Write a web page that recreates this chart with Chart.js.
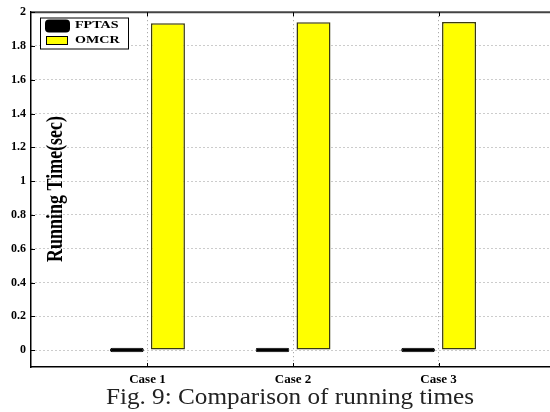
<!DOCTYPE html>
<html>

<head>
    <title>Comparison of running times</title>
    <script src="https://cdn.jsdelivr.net/npm/chart.js"></script>
    <style>
        html,
        body {
            margin: 0;
            padding: 0;
            overflow: hidden;
            background: #fff;
            width: 550px;
            height: 412px;
        }

        #myChart {
            position: absolute;
            left: 0;
            top: 0;
        }

        #caption {
            position: absolute;
            left: 0;
            top: 385px;
            width: 580px;
            text-align: center;
            font-family: "Liberation Serif", "Times New Roman", serif;
            font-size: 22.5px;
            line-height: 24px;
            color: #222;
            white-space: nowrap;
            transform: scaleX(1.12);
            transform-origin: 290px 0;
        }
    </style>
</head>

<body>
    <canvas id="myChart" width="555" height="412"></canvas>
    <div id="caption">Fig. 9: Comparison of running times</div>

    <script>
        // values
        const cases = ['Case 1', 'Case 2', 'Case 3'];
        const fptas = [0.014, 0.014, 0.014];
        const omcr = [1.934, 1.94, 1.942];
        const yTicks = [0, 0.2, 0.4, 0.6, 0.8, 1, 1.2, 1.4, 1.6, 1.8, 2];
        const yTitle = 'Running Time(sec)';

        const serif = '"Liberation Serif", "Times New Roman", serif';

        function points(values) {
            return values.map((v, i) => ({ x: i + 1, y: v }));
        }

        // frame top line, inward tick marks, legend box and y title
        const decor = {
            id: 'decor',
            afterDatasetsDraw(chart) {
                const ctx = chart.ctx;
                const area = chart.chartArea;
                const xs = chart.scales.x;
                const ys = chart.scales.y;
                ctx.save();

                ctx.strokeStyle = '#444';
                ctx.lineWidth = 2;
                ctx.beginPath();
                ctx.moveTo(area.left, area.top);
                ctx.lineTo(area.right, area.top);
                ctx.stroke();

                ctx.strokeStyle = '#000';
                ctx.lineWidth = 1;
                ctx.beginPath();
                cases.forEach((c, i) => {
                    const px = Math.round(xs.getPixelForValue(i + 1)) + 0.5;
                    ctx.moveTo(px, area.bottom);
                    ctx.lineTo(px, area.bottom - 4);
                    ctx.moveTo(px, area.top);
                    ctx.lineTo(px, area.top + 4);
                });
                yTicks.forEach(v => {
                    const py = Math.round(ys.getPixelForValue(v)) + 0.5;
                    ctx.moveTo(area.left, py);
                    ctx.lineTo(area.left + 4, py);
                });
                ctx.stroke();

                // legend
                const lx = 40, ly = 17.5, lw = 88, lh = 31;
                ctx.fillStyle = '#fff';
                ctx.fillRect(lx, ly, lw, lh);
                ctx.strokeStyle = '#000';
                ctx.lineWidth = 1;
                ctx.strokeRect(lx + 0.5, ly + 0.5, lw, lh);

                const ds = chart.data.datasets;
                ctx.fillStyle = ds[0].backgroundColor;
                ctx.beginPath();
                ctx.roundRect(45, 19.5, 25, 13, 4);
                ctx.fill();

                ctx.fillStyle = ds[1].backgroundColor;
                ctx.fillRect(46, 36, 22, 9);
                ctx.strokeStyle = '#000';
                ctx.strokeRect(46.5, 36.5, 21, 8);

                ctx.fillStyle = '#000';
                ctx.font = 'bold 11px ' + serif;
                ctx.textBaseline = 'middle';
                ctx.textAlign = 'left';
                [ds[0].label, ds[1].label].forEach((t, i) => {
                    ctx.save();
                    ctx.translate(75, i === 0 ? 25 : 40.5);
                    ctx.scale(1.28, 1);
                    ctx.fillText(t, 0, 0);
                    ctx.restore();
                });

                // y axis title, sits inside the plot like the original
                ctx.save();
                ctx.translate(56.5, 189);
                ctx.scale(1.28, 1);
                ctx.rotate(-Math.PI / 2);
                ctx.font = 'bold 18px ' + serif;
                ctx.textAlign = 'center';
                ctx.textBaseline = 'middle';
                ctx.fillText(yTitle, 0, 0);
                ctx.restore();

                ctx.restore();
            }
        };

        const ctx = document.getElementById('myChart').getContext('2d');

        const myChart = new Chart(ctx, {
            type: 'bar',
            data: {
                datasets: [{
                    label: 'FPTAS',
                    data: points(fptas),
                    base: -0.013,
                    backgroundColor: '#000',
                    borderColor: '#000',
                    borderWidth: 1,
                    borderRadius: 2.5,
                    borderSkipped: false
                }, {
                    label: 'OMCR',
                    data: points(omcr),
                    backgroundColor: '#ffff00',
                    borderColor: '#3a3a10',
                    borderWidth: 1.5,
                    borderSkipped: false
                }]
            },
            options: {
                responsive: false,
                animation: false,
                categoryPercentage: 0.563,
                barPercentage: 0.83,
                layout: {
                    padding: { top: 11, left: 0, right: 0, bottom: 0 }
                },
                plugins: {
                    legend: { display: false },
                    tooltip: { enabled: false }
                },
                scales: {
                    x: {
                        type: 'linear',
                        min: 0.2,
                        max: 3.8,
                        offset: false,
                        afterBuildTicks(scale) {
                            scale.ticks = cases.map((c, i) => ({ value: i + 1 }));
                        },
                        afterFit(scale) {
                            scale.height = 45;
                        },
                        ticks: {
                            padding: 5,
                            color: '#000',
                            font: { family: serif, size: 13, weight: 'bold' },
                            callback: (v) => cases[Math.round(v) - 1]
                        },
                        grid: {
                            offset: false,
                            drawTicks: false,
                            color: '#999',
                            lineWidth: 1
                        },
                        border: {
                            display: true,
                            color: '#000',
                            width: 1.5,
                            dash: [1, 3]
                        }
                    },
                    y: {
                        min: -0.1,
                        max: 2,
                        afterBuildTicks(scale) {
                            scale.ticks = yTicks.map(v => ({ value: v }));
                        },
                        afterFit(scale) {
                            scale.width = 31;
                        },
                        ticks: {
                            padding: 5,
                            color: '#000',
                            font: { family: serif, size: 12, weight: 'bold' },
                            callback: (v) => String(Number(v.toFixed(1)))
                        },
                        grid: {
                            drawTicks: false,
                            color: '#999',
                            lineWidth: 1
                        },
                        border: {
                            display: true,
                            color: '#000',
                            width: 1.5,
                            dash: [1, 3]
                        }
                    }
                }
            },
            plugins: [decor]
        });
    </script>
</body>

</html>
